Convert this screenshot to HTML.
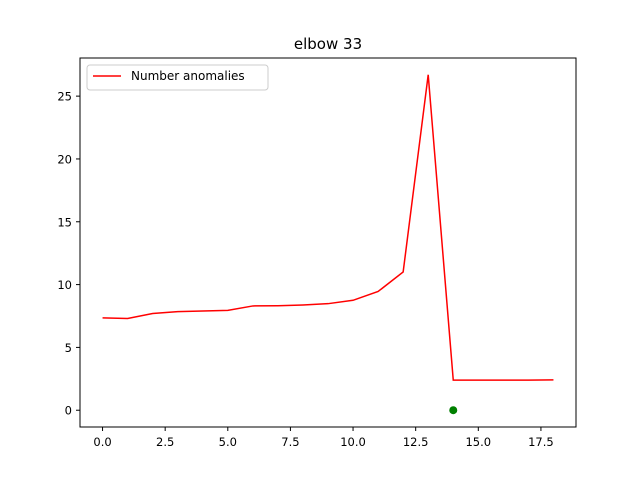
<!DOCTYPE html>
<html><head><meta charset="utf-8"><style>
body{margin:0;background:#fff;}
svg{font-family:"DejaVu Sans","Liberation Sans",sans-serif;}
</style></head><body>
<svg id="chart" width="640" height="480" xmlns="http://www.w3.org/2000/svg">
<rect width="640" height="480" fill="#fff"/>
<text x="328" y="49" font-size="15" text-anchor="middle">elbow 33</text>
<g id="plot"></g>
<rect x="80" y="58" width="496" height="369" fill="none" stroke="#000" stroke-width="1"/>
<g>
<rect x="87" y="65" width="181" height="25" rx="3" fill="#fff" stroke="#ccc"/>
<line x1="93" y1="76" x2="121" y2="76" stroke="red" stroke-width="1.5"/>
<text x="131" y="80" font-size="12">Number anomalies</text>
</g>
</svg>
<script>
const xValues=[0,1,2,3,4,5,6,7,8,9,10,11,12,13,14,15,16,17,18];
const yValues=[7.35,7.3,7.7,7.85,7.9,7.95,8.3,8.32,8.38,8.48,8.75,9.45,11.0,26.7,2.4,2.4,2.4,2.4,2.42];
const elbowX=[14];
const elbowY=[0];
const xTicks=[0,2.5,5,7.5,10,12.5,15,17.5];
const xTickLabels=["0.0","2.5","5.0","7.5","10.0","12.5","15.0","17.5"];
const yTicks=[0,5,10,15,20,25];
const yTickLabels=["0","5","10","15","20","25"];
const L=80,R=576,T=58,B=427;
const xmin=-0.9,xmax=18.9;
const ymin=-1.335,ymax=28.035;
const sx=v=>L+(v-xmin)/(xmax-xmin)*(R-L);
const sy=v=>B-(v-ymin)/(ymax-ymin)*(B-T);
const NS="http://www.w3.org/2000/svg";
const g=document.getElementById('plot');
function mk(t,a){const e=document.createElementNS(NS,t);for(const k in a)e.setAttribute(k,a[k]);g.appendChild(e);return e;}
xTicks.forEach((v,i)=>{
 const l=mk('line',{x1:sx(v),x2:sx(v),y1:B,y2:B+4,stroke:'#000'});
 
 
 const t=mk('text',{x:sx(v),y:B+19,'font-size':11.5,'text-anchor':'middle'});
 t.textContent=xTickLabels[i];
 
 
});
yTicks.forEach((v,i)=>{
 const l=mk('line',{x1:L-4,x2:L,y1:sy(v),y2:sy(v),stroke:'#000'});
 
 
 const t=mk('text',{x:L-8,y:sy(v)+4.5,'font-size':11.5,'text-anchor':'end'});
 t.textContent=yTickLabels[i];
 
 
});
const p=mk('polyline',{points:xValues.map((x,i)=>sx(x)+','+sy(yValues[i])).join(' '),fill:'none',stroke:'red','stroke-width':1.5});


elbowX.forEach((x,i)=>{
 const c=mk('circle',{cx:sx(x),cy:sy(elbowY[i]),r:4,fill:'green'});
 
 
});
</script>
</body></html>
